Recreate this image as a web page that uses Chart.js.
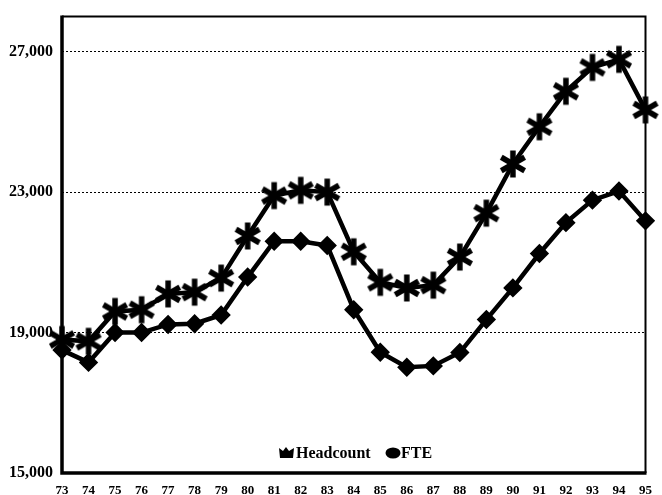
<!DOCTYPE html>
<html>
<head>
<meta charset="utf-8">
<style>
html,body{margin:0;padding:0;background:#fff;}
#wrap{position:relative;width:662px;height:495px;}
</style>
<script src="https://cdn.jsdelivr.net/npm/chart.js@4"></script>
</head>
<body>
<div id="wrap"><canvas id="c" width="662" height="495"></canvas></div>
<script>
const years = ['73','74','75','76','77','78','79','80','81','82','83','84','85','86','87','88','89','90','91','92','93','94','95'];
const headcount = [18800,18750,19600,19650,20100,20150,20550,21750,22900,23050,23000,21300,20430,20270,20350,21150,22400,23800,24860,25870,26550,26780,25340];
const fte = [18500,18150,19000,19000,19230,19250,19500,20580,21600,21600,21480,19650,18440,18010,18050,18430,19370,20270,21250,22130,22770,23030,22180];
const yTicks = [15000,19000,23000,27000];

function makeStar(){
  const s = 30, c = document.createElement('canvas');
  c.width = s; c.height = s;
  const g = c.getContext('2d');
  g.strokeStyle = '#000'; g.fillStyle = '#000'; g.lineWidth = 5.5; g.lineCap = 'butt';
  const r = 13.5, cx = s/2, cy = s/2;
  for (let k = 0; k < 3; k++) {
    const a = Math.PI/2 + k*Math.PI/3;
    g.beginPath();
    g.moveTo(cx + r*Math.cos(a), cy + r*Math.sin(a));
    g.lineTo(cx - r*Math.cos(a), cy - r*Math.sin(a));
    g.stroke();
  }
  g.beginPath(); g.arc(cx, cy, 4, 0, Math.PI*2); g.fill();
  return c;
}
const starImg = makeStar();

const framePlugin = {
  id: 'frame',
  afterDraw(chart){
    const {ctx, chartArea:a} = chart;
    ctx.save();
    ctx.strokeStyle = '#000';
    ctx.lineWidth = 2;
    ctx.beginPath();
    ctx.moveTo(a.left, a.top); ctx.lineTo(a.right, a.top); ctx.lineTo(a.right, a.bottom);
    ctx.stroke();
    ctx.lineWidth = 3.5;
    ctx.beginPath();
    ctx.moveTo(a.left, a.top - 1); ctx.lineTo(a.left, a.bottom); ctx.lineTo(a.right + 1, a.bottom);
    ctx.stroke();
    // legend
    const y = 453;
    ctx.fillStyle = '#000';
    ctx.font = 'bold 16px "Liberation Serif"';
    ctx.textBaseline = 'middle';
    ctx.textAlign = 'left';
    ctx.beginPath();
    ctx.moveTo(279, y-5); ctx.lineTo(283, y-2); ctx.lineTo(286, y-6); ctx.lineTo(289, y-2); ctx.lineTo(294, y-5);
    ctx.lineTo(293, y+5); ctx.lineTo(280, y+5); ctx.closePath(); ctx.fill();
    ctx.fillText(chart.data.datasets[0].label, 296, y+1);
    ctx.beginPath();
    ctx.ellipse(393, y, 7.5, 5.5, 0, 0, Math.PI*2); ctx.fill();
    ctx.fillText(chart.data.datasets[1].label, 401, y+1);
    ctx.restore();
  }
};

new Chart(document.getElementById('c'), {
  type: 'line',
  data: {
    labels: years,
    datasets: [
      {label:'Headcount', data: headcount, borderColor:'#000', backgroundColor:'#000', borderWidth:4.5,
       pointStyle: starImg, pointRadius: 12, tension:0},
      {label:'FTE', data: fte, borderColor:'#000', backgroundColor:'#000', borderWidth:4.5,
       pointStyle:'rectRot', pointRadius:6.5, tension:0}
    ]
  },
  options: {
    responsive:false, animation:false,
    layout:{padding:{top:13, right:9, left:0, bottom:0}},
    plugins:{legend:{display:false}, tooltip:{enabled:false}},
    scales:{
      x:{
        type:'category', offset:false,
        grid:{display:false},
        border:{display:false},
        ticks:{color:'#000', font:{family:'"Liberation Serif"', weight:'bold', size:13}, padding:2, maxRotation:0, autoSkip:false},
        afterFit(s){ s.height = 22; s.paddingLeft = 0; s.paddingRight = 0; }
      },
      y:{
        min:15000, max:28000,
        afterBuildTicks(s){ s.ticks = yTicks.map(v=>({value:v})); },
        grid:{color:(c)=> (c.tick && c.tick.value===15000) ? 'rgba(0,0,0,0)' : '#000', lineWidth:1, drawTicks:false},
        border:{display:false, dash:[2,2]},
        ticks:{color:'#000', font:{family:'"Liberation Serif"', weight:'bold', size:16}, padding:9,
          callback:(v)=> v.toLocaleString('en-US')},
        afterFit(s){ s.width = 62; s.paddingTop = 0; s.paddingBottom = 0; }
      }
    }
  },
  plugins:[framePlugin]
});
</script>
</body>
</html>
